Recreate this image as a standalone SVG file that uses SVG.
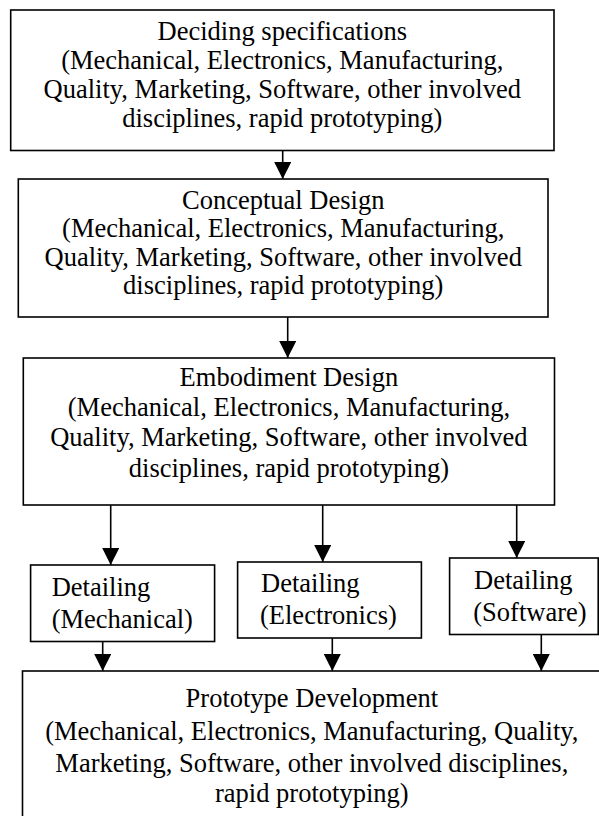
<svg xmlns="http://www.w3.org/2000/svg" width="599" height="816" viewBox="0 0 599 816">
<style>
.box{fill:#fff;stroke:#000;stroke-width:1.6}
.t{font-family:"Liberation Serif","Times New Roman",serif;font-size:26.5px;fill:#000}
.c{text-anchor:middle}
.e{stroke:#000;stroke-width:1.6;fill:none;marker-end:url(#ah)}
</style>
<defs>
<marker id="ah" markerUnits="userSpaceOnUse" markerWidth="17" markerHeight="17" viewBox="0 0 17 17" refX="17" refY="8.5" orient="auto">
<path d="M0,0 L17,8.5 L0,17 Z" fill="#000"/>
</marker>
</defs>
<rect width="599" height="816" fill="#fff"/>
<g id="connectors">
<line class="e" x1="282.7" y1="150.5" x2="282.7" y2="179"/>
<line class="e" x1="287.7" y1="317" x2="287.7" y2="358"/>
<line class="e" x1="110.7" y1="505" x2="110.7" y2="565"/>
<line class="e" x1="322.7" y1="505" x2="322.7" y2="562"/>
<line class="e" x1="516.7" y1="505" x2="516.7" y2="558"/>
<line class="e" x1="102.7" y1="641.5" x2="102.7" y2="671"/>
<line class="e" x1="332.3" y1="638" x2="332.3" y2="671"/>
<line class="e" x1="541.3" y1="634.5" x2="541.3" y2="671"/>
</g>
<g id="spec">
<rect class="box" x="10.7" y="10" width="543.3" height="140.5"/>
<text class="t c" x="282.3" y="39.5">Deciding specifications</text>
<text class="t c" x="282.3" y="68.5">(Mechanical, Electronics, Manufacturing,</text>
<text class="t c" x="282.3" y="97.5">Quality, Marketing, Software, other involved</text>
<text class="t c" x="282.3" y="126.5">disciplines, rapid prototyping)</text>
</g>
<g id="conceptual">
<rect class="box" x="18.3" y="179" width="529.7" height="138"/>
<text class="t c" x="283.2" y="208.5">Conceptual Design</text>
<text class="t c" x="283.2" y="237">(Mechanical, Electronics, Manufacturing,</text>
<text class="t c" x="283.2" y="265.5">Quality, Marketing, Software, other involved</text>
<text class="t c" x="283.2" y="294">disciplines, rapid prototyping)</text>
</g>
<g id="embodiment">
<rect class="box" x="23.3" y="358" width="531.2" height="147"/>
<text class="t c" x="288.9" y="385.5">Embodiment Design</text>
<text class="t c" x="288.9" y="416">(Mechanical, Electronics, Manufacturing,</text>
<text class="t c" x="288.9" y="446.3">Quality, Marketing, Software, other involved</text>
<text class="t c" x="288.9" y="476.6">disciplines, rapid prototyping)</text>
</g>
<g id="det-mech">
<rect class="box" x="30.6" y="565" width="184" height="76.5"/>
<text class="t" x="51.7" y="595.5">Detailing</text>
<text class="t" x="51.7" y="627.5">(Mechanical)</text>
</g>
<g id="det-elec">
<rect class="box" x="237.6" y="562" width="183.8" height="76"/>
<text class="t" x="261" y="592">Detailing</text>
<text class="t" x="260" y="623.5">(Electronics)</text>
</g>
<g id="det-soft">
<rect class="box" x="449.6" y="558" width="148.6" height="76.5"/>
<text class="t" x="474" y="588.5">Detailing</text>
<text class="t" x="473.3" y="621">(Software)</text>
</g>
<g id="prototype">
<rect class="box" x="22.5" y="671" width="620" height="200"/>
<text class="t c" x="311.8" y="706.7">Prototype Development</text>
<text class="t c" x="311.8" y="740">(Mechanical, Electronics, Manufacturing, Quality,</text>
<text class="t c" x="311.8" y="771.7">Marketing, Software, other involved disciplines,</text>
<text class="t c" x="311.8" y="801.7">rapid prototyping)</text>
</g>
</svg>
